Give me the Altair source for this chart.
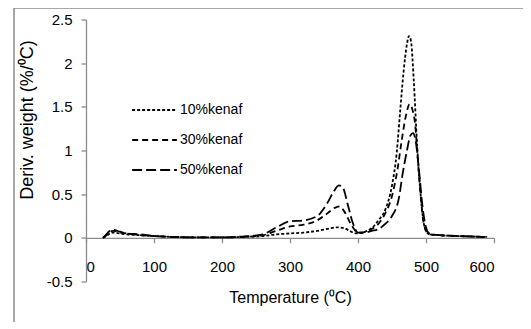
import altair as alt
import pandas as pd

t10 = [25, 30, 35, 40, 50, 60, 80, 100, 130, 160, 200, 230, 260, 280, 300, 320, 340, 360, 370, 380, 390, 398, 410, 420, 430, 440, 450, 457, 462, 467, 472, 475, 478, 482, 487, 492, 496, 500, 505, 520, 550, 590]
v10 = [0.0, 0.02, 0.05, 0.06, 0.05, 0.04, 0.03, 0.02, 0.01, 0.005, 0.005, 0.01, 0.02, 0.04, 0.05, 0.06, 0.08, 0.11, 0.12, 0.11, 0.07, 0.05, 0.07, 0.11, 0.2, 0.32, 0.6, 0.98, 1.45, 1.9, 2.22, 2.31, 2.25, 1.8, 1.05, 0.5, 0.2, 0.08, 0.04, 0.03, 0.02, 0.01]

t30 = [25, 30, 35, 40, 50, 60, 80, 100, 130, 160, 200, 230, 260, 280, 300, 320, 340, 355, 365, 373, 380, 390, 398, 405, 420, 430, 440, 450, 458, 464, 470, 476, 480, 484, 488, 492, 496, 500, 505, 520, 550, 590]
v30 = [0.0, 0.03, 0.07, 0.08, 0.06, 0.05, 0.03, 0.02, 0.01, 0.005, 0.005, 0.01, 0.03, 0.08, 0.13, 0.15, 0.2, 0.28, 0.34, 0.36, 0.3, 0.15, 0.07, 0.06, 0.1, 0.16, 0.28, 0.48, 0.78, 1.1, 1.38, 1.53, 1.47, 1.3, 0.9, 0.5, 0.2, 0.08, 0.04, 0.03, 0.02, 0.01]

t50 = [25, 30, 35, 40, 50, 60, 80, 100, 130, 160, 200, 230, 260, 280, 300, 320, 340, 355, 365, 372, 378, 385, 392, 400, 410, 420, 430, 440, 450, 460, 466, 472, 477, 481, 485, 490, 495, 500, 505, 520, 550, 590]
v50 = [0.0, 0.04, 0.08, 0.09, 0.07, 0.05, 0.04, 0.02, 0.01, 0.005, 0.005, 0.015, 0.04, 0.12, 0.19, 0.2, 0.25, 0.4, 0.54, 0.6, 0.57, 0.38, 0.18, 0.06, 0.06, 0.08, 0.1, 0.16, 0.25, 0.45, 0.75, 1.0, 1.17, 1.2, 1.1, 0.75, 0.35, 0.12, 0.05, 0.03, 0.02, 0.01]

series = ["10%kenaf", "30%kenaf", "50%kenaf"]
dashes = [[3, 2], [6, 4], [10, 4]]

rows = []
for name, ts, vs in zip(series, [t10, t30, t50], [v10, v30, v50]):
    for t, v in zip(ts, vs):
        rows.append({"T": t, "v": v, "s": name})
df = pd.DataFrame(rows)

W, H = 408, 262
FONT = "Liberation Sans"

frame = alt.Chart(pd.DataFrame({"a": [0]})).mark_rect(
    fill=None, stroke="#8a8a8a", strokeWidth=1.5
).encode(
    x=alt.value(-72), x2=alt.value(W + 80),
    y=alt.value(-11.5), y2=alt.value(H + 80),
)

lines = alt.Chart(df).mark_line(color="black", strokeWidth=1.8, interpolate="monotone").encode(
    x=alt.X("T:Q", scale=alt.Scale(domain=[0, 600], nice=False),
            axis=alt.Axis(title="Temperature (⁰C)", values=[0, 100, 200, 300, 400, 500, 600],
                          offset=-43.7, labelPadding=17, tickSize=5, grid=False,
                          titleY=60, titleBaseline="middle", titleFontSize=16)),
    y=alt.Y("v:Q", scale=alt.Scale(domain=[-0.5, 2.5], nice=False),
            axis=alt.Axis(title="Deriv. weight (%/⁰C)", values=[-0.5, 0, 0.5, 1, 1.5, 2, 2.5],
                          labelExpr="toString(datum.value)",
                          tickSize=5, labelPadding=9, grid=False,
                          titleX=-59, titleY=100, titleBaseline="middle", titleFontSize=18)),
    strokeDash=alt.StrokeDash("s:N", scale=alt.Scale(domain=series, range=dashes),
                              legend=alt.Legend(title=None, orient="none", legendX=45, legendY=79.5,
                                                symbolType="stroke", symbolSize=2000,
                                                symbolStrokeColor="black", symbolStrokeWidth=1.8,
                                                labelFontSize=14, labelFont=FONT, rowPadding=8,
                                                clipHeight=22, labelOffset=2, padding=0)),
)

chart = alt.layer(frame, lines).properties(
    width=W, height=H,
    autosize=alt.AutoSizeParams(type="none"),
    padding={"left": 78, "top": 11.5, "right": 29, "bottom": 40},
).configure_view(stroke=None).configure_axis(
    domainColor="#8c8c8c", tickColor="#8c8c8c", labelColor="black", titleColor="black",
    labelFont=FONT, titleFont=FONT, labelFontSize=15, titleFontSize=15,
    titleFontWeight="normal", domainWidth=1.3, tickWidth=1.3,
)

chart.save("out.html", embed_options={"renderer": "svg", "actions": False})
